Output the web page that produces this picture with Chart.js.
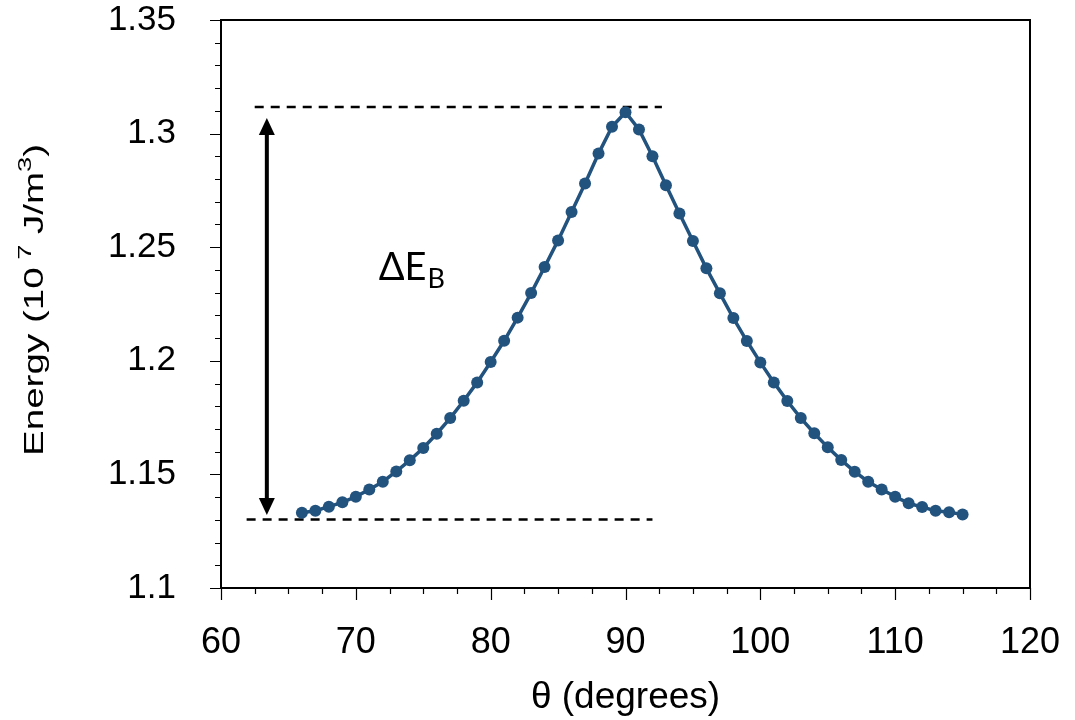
<!DOCTYPE html>
<html>
<head>
<meta charset="utf-8">
<script src="https://cdn.jsdelivr.net/npm/chart.js@4.4.1/dist/chart.umd.min.js"></script>
<style>
html, body { margin: 0; padding: 0; background: #fff; }
</style>
</head>
<body>
<canvas id="myChart" width="1075" height="720"></canvas>
<script>
'use strict'

// angle (degrees) and energy (10^7 J/m^3)
const theta = [66,67,68,69,70,71,72,73,74,75,76,77,78,79,80,81,82,83,84,85,86,87,88,89,90,
               91,92,93,94,95,96,97,98,99,100,101,102,103,104,105,106,107,108,109,110,111,112,113,114,115];
const energy = [1.1331,1.1340,1.1358,1.1377,1.1402,1.1434,1.1468,1.1513,1.1562,1.1616,
                1.1679,1.1748,1.1824,1.1905,1.1995,1.2088,1.2190,1.2298,1.2413,1.2530,
                1.2655,1.2780,1.2912,1.3030,1.3094,1.3018,1.2900,1.2773,1.2648,1.2527,
                1.2407,1.2297,1.2188,1.2087,1.1993,1.1905,1.1823,1.1748,1.1681,1.1619,
                1.1563,1.1512,1.1468,1.1434,1.1402,1.1373,1.1356,1.1340,1.1333,1.1324];

const xTicks = [60, 70, 80, 90, 100, 110, 120];
const yTicks = [1.1, 1.15, 1.2, 1.25, 1.3, 1.35];
const xMinorStep = 2.5;
const yMinorStep = 0.01;

// dashed reference lines and the barrier arrow
const topDash = { y: 1.3117, from: 62.5, to: 92.7 };
const bottomDash = { y: 1.1301, from: 61.9, to: 92.0 };
const arrow = { x: 63.4, from: 1.1321, to: 1.3069 };
const labelPos = { x: 71.7, y: 1.2356 };

const lineColor = '#22527e';
const axisFont = '"Liberation Sans", Arial';

const extras = {
  id: 'extras',
  beforeDatasetsDraw(chart) {
    const ctx = chart.ctx;
    const xs = chart.scales.x, ys = chart.scales.y;
    ctx.save();
    // dashed lines
    ctx.strokeStyle = '#000';
    ctx.lineWidth = 2.5;
    ctx.setLineDash([9, 7]);
    for (const d of [topDash, bottomDash]) {
      ctx.beginPath();
      ctx.moveTo(xs.getPixelForValue(d.from), ys.getPixelForValue(d.y));
      ctx.lineTo(xs.getPixelForValue(d.to), ys.getPixelForValue(d.y));
      ctx.stroke();
    }
    ctx.setLineDash([]);
    // double arrow
    const ax = xs.getPixelForValue(arrow.x);
    const a1 = ys.getPixelForValue(arrow.to);
    const a2 = ys.getPixelForValue(arrow.from);
    const head = 17, half = 8;
    ctx.lineWidth = 4;
    ctx.beginPath();
    ctx.moveTo(ax, a1 + head - 2);
    ctx.lineTo(ax, a2 - head + 2);
    ctx.stroke();
    ctx.fillStyle = '#000';
    ctx.beginPath();
    ctx.moveTo(ax, a1); ctx.lineTo(ax - half, a1 + head); ctx.lineTo(ax + half, a1 + head);
    ctx.closePath(); ctx.fill();
    ctx.beginPath();
    ctx.moveTo(ax, a2); ctx.lineTo(ax - half, a2 - head); ctx.lineTo(ax + half, a2 - head);
    ctx.closePath(); ctx.fill();
    // label
    const lx = xs.getPixelForValue(labelPos.x);
    const ly = ys.getPixelForValue(labelPos.y);
    ctx.textBaseline = 'alphabetic';
    ctx.textAlign = 'left';
    ctx.font = '38px Lato';
    ctx.fillText('ΔE', lx, ly);
    const w = ctx.measureText('ΔE').width;
    ctx.font = '27px Lato';
    ctx.fillText('B', lx + w + 1, ly + 8);
    ctx.restore();
  },
  afterDraw(chart) {
    const ctx = chart.ctx;
    const a = chart.chartArea;
    const xs = chart.scales.x, ys = chart.scales.y;
    ctx.save();
    ctx.strokeStyle = '#000';
    // frame
    ctx.lineWidth = 2;
    ctx.strokeRect(a.left, a.top, a.right - a.left, a.bottom - a.top);
    // ticks
    ctx.lineWidth = 1.2;
    ctx.beginPath();
    for (let v = xTicks[0]; v <= xTicks[xTicks.length - 1] + 1e-9; v += xMinorStep) {
      const px = Math.round(xs.getPixelForValue(v)) + 0.5;
      const major = xTicks.some(t => Math.abs(t - v) < 1e-6);
      ctx.moveTo(px, a.bottom);
      ctx.lineTo(px, a.bottom + (major ? 12 : 6));
    }
    for (let i = 0; i <= Math.round((yTicks[yTicks.length - 1] - yTicks[0]) / yMinorStep); i++) {
      const v = yTicks[0] + i * yMinorStep;
      const py = Math.round(ys.getPixelForValue(v)) + 0.5;
      const major = i % 5 === 0;
      ctx.moveTo(a.left, py);
      ctx.lineTo(a.left - (major ? 11 : 6), py);
    }
    ctx.stroke();
    // y axis title with superscripts (stretched along its length like the original)
    const parts = [
      ['Energy (10', 27, 0], [' 7', 19, 12], [' J/m', 27, 0], ['3', 19, 12], [')', 27, 0]
    ];
    let total = 0;
    for (const p of parts) { ctx.font = p[1] + 'px ' + axisFont; total += ctx.measureText(p[0]).width; }
    const stretch = 312 / total;
    ctx.translate(43, 300);
    ctx.rotate(-Math.PI / 2);
    ctx.scale(stretch, 1);
    ctx.fillStyle = '#000';
    ctx.textBaseline = 'alphabetic';
    ctx.textAlign = 'left';
    let x = -total / 2;
    for (const p of parts) {
      ctx.font = p[1] + 'px ' + axisFont;
      ctx.fillText(p[0], x, -p[2]);
      x += ctx.measureText(p[0]).width;
    }
    ctx.restore();
  }
};

const ctx = document.getElementById('myChart');
window.myChart = new Chart(ctx, {
  type: 'scatter',
  data: {
    datasets: [{
      data: theta.map((t, i) => ({ x: t, y: energy[i] })),
      showLine: true,
      borderColor: lineColor,
      backgroundColor: lineColor,
      borderWidth: 3.5,
      pointRadius: 6,
      pointBorderWidth: 0,
      pointHoverRadius: 6
    }]
  },
  options: {
    responsive: false,
    animation: false,
    events: [],
    layout: { padding: { left: 0, right: 45, top: 20, bottom: 0 } },
    plugins: { legend: { display: false }, tooltip: { enabled: false } },
    scales: {
      x: {
        type: 'linear',
        min: 60, max: 120,
        afterBuildTicks: s => { s.ticks = xTicks.map(v => ({ value: v })); },
        afterFit: s => { s.height = 132; s.paddingLeft = 0; s.paddingRight = 0; },
        grid: { display: false },
        border: { display: false },
        ticks: {
          color: '#000',
          padding: 25,
          font: { family: axisFont, size: 36 },
          maxRotation: 0
        },
        title: {
          display: true,
          text: 'θ (degrees)',
          color: '#000',
          font: { family: axisFont, size: 37 },
          padding: { top: 0, bottom: 0 }
        }
      },
      y: {
        type: 'linear',
        min: 1.1, max: 1.35,
        afterBuildTicks: s => { s.ticks = yTicks.map(v => ({ value: v })); },
        afterFit: s => { s.width = 221; s.paddingTop = 0; s.paddingBottom = 0; },
        grid: { display: false },
        border: { display: false },
        ticks: {
          color: '#000',
          padding: 37,
          font: { family: axisFont, size: 35 },
          callback: v => String(+v.toFixed(2))
        }
      }
    }
  },
  plugins: [extras]
});
</script>
</body>
</html>
